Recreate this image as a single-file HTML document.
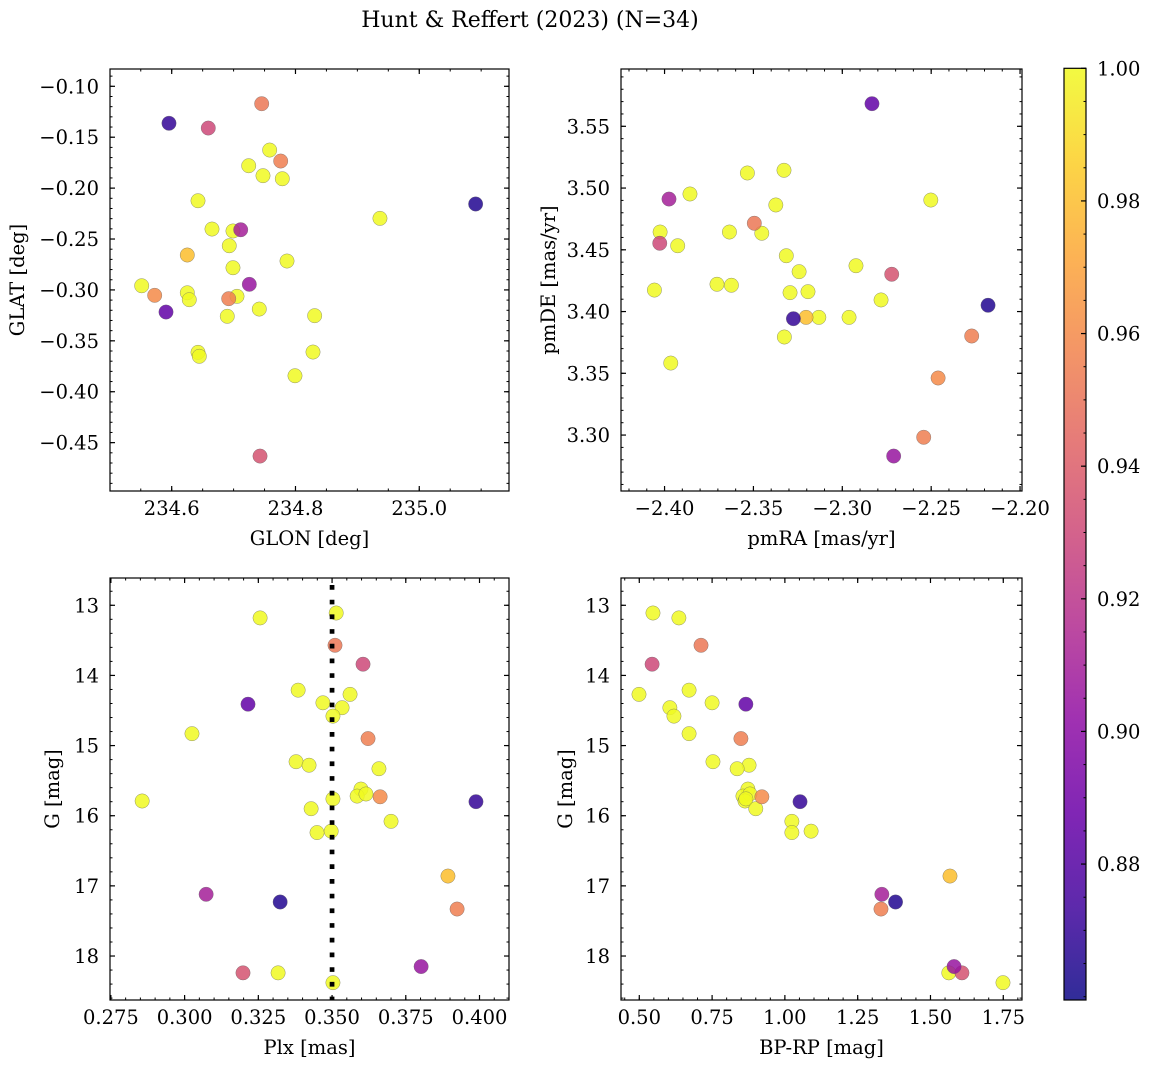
<!DOCTYPE html>
<html><head><meta charset="utf-8">
<style>
html,body{margin:0;padding:0;background:#fff;}
svg{display:block;font-family:"DejaVu Serif","Liberation Serif",serif;}
</style></head>
<body>
<svg id="fig" width="1149" height="1068" viewBox="0 0 1149 1068" xmlns="http://www.w3.org/2000/svg">
<defs>
<linearGradient id="plasma" x1="0" y1="1" x2="0" y2="0">
<stop offset="0" stop-color="#0d0887"/><stop offset="0.1" stop-color="#41049d"/><stop offset="0.2" stop-color="#6a00a8"/><stop offset="0.3" stop-color="#8f0da4"/><stop offset="0.4" stop-color="#b12a90"/><stop offset="0.5" stop-color="#cc4778"/><stop offset="0.6" stop-color="#e16462"/><stop offset="0.7" stop-color="#f2844b"/><stop offset="0.8" stop-color="#fca636"/><stop offset="0.9" stop-color="#fcce25"/><stop offset="1" stop-color="#f0f921"/>
</linearGradient>
</defs>
<text x="530" y="27" text-anchor="middle" font-size="22">Hunt &amp; Reffert (2023) (N=34)</text>
</svg>
<script>
// ---- data (one entry per star) ----
const glon = [234.7583,234.7244,234.7454,234.6591,234.7475,234.7787,234.5908,234.6425,234.9365,234.6651,234.699,234.7761,234.693,234.7863,234.699,234.5515,234.6252,234.6284,234.5725,234.7055,234.7415,234.5956,234.6898,234.831,234.6425,234.6446,234.6252,234.7115,235.0911,234.6921,234.7254,234.7427,234.8283,234.7992];
const glat = [-0.1626,-0.178,-0.1171,-0.141,-0.1878,-0.1908,-0.3217,-0.2124,-0.2297,-0.2402,-0.2421,-0.1734,-0.2566,-0.2716,-0.2782,-0.2959,-0.3028,-0.3096,-0.3053,-0.3063,-0.3188,-0.1363,-0.3259,-0.3253,-0.3613,-0.3652,-0.2657,-0.2409,-0.2156,-0.3086,-0.2945,-0.4632,-0.361,-0.3843];
const pmra = [-2.3328,-2.3534,-2.3495,-2.4027,-2.3857,-2.2502,-2.2833,-2.3374,-2.4025,-2.3635,-2.3453,-2.2272,-2.3926,-2.3315,-2.2923,-2.3243,-2.3705,-2.3624,-2.2461,-2.4057,-2.3294,-2.3275,-2.3193,-2.2782,-2.3132,-2.2962,-2.3204,-2.3975,-2.2180,-2.2542,-2.2711,-2.2722,-2.3326,-2.3965];
const pmde = [3.5144,3.5122,3.4715,3.4553,3.4952,3.4903,3.5683,3.4863,3.4644,3.4644,3.4634,3.3802,3.4533,3.4452,3.4371,3.4323,3.4221,3.4213,3.3462,3.4174,3.4153,3.3942,3.4161,3.4094,3.3953,3.3953,3.3953,3.4911,3.4051,3.2982,3.2830,3.4302,3.3794,3.3583];
const plx = [0.3514,0.3256,0.351,0.3605,0.3385,0.3561,0.3215,0.3469,0.3534,0.3503,0.3025,0.3622,0.3378,0.3422,0.3659,0.3598,0.3585,0.3615,0.3663,0.2856,0.3503,0.3988,0.3429,0.370,0.3449,0.3497,0.3893,0.3073,0.3324,0.3924,0.3802,0.3198,0.3317,0.3503];
const gmag = [13.11,13.18,13.57,13.84,14.21,14.27,14.41,14.39,14.46,14.58,14.83,14.90,15.23,15.28,15.33,15.62,15.72,15.69,15.73,15.79,15.76,15.80,15.90,16.08,16.24,16.22,16.86,17.12,17.23,17.33,18.15,18.24,18.24,18.38];
const bprp = [0.547,0.636,0.712,0.544,0.671,0.499,0.866,0.750,0.605,0.619,0.671,0.849,0.753,0.877,0.836,0.873,0.856,0.880,0.921,0.863,0.866,1.052,0.900,1.024,1.024,1.090,1.567,1.333,1.380,1.330,1.581,1.608,1.563,1.749];
const prob = [1,1,0.952,0.93,1,1,0.885,1,1,1,1,0.955,1,1,1,1,1,1,0.96,1,1,0.87,1,1,1,1,0.98,0.91,0.865,0.955,0.905,0.935,1,1];
const plxRef = 0.35;
const cbTicks = [0.88,0.90,0.92,0.94,0.96,0.98,1.00];
const xTicks1 = [234.6,234.8,235.0], yTicks1 = [-0.10,-0.15,-0.20,-0.25,-0.30,-0.35,-0.40,-0.45];
const xTicks2 = [-2.40,-2.35,-2.30,-2.25,-2.20], yTicks2 = [3.30,3.35,3.40,3.45,3.50,3.55];
const xTicks3 = [0.275,0.300,0.325,0.350,0.375,0.400], yTicks3 = [13,14,15,16,17,18];
const xTicks4 = [0.50,0.75,1.00,1.25,1.50,1.75], yTicks4 = [13,14,15,16,17,18];
const vmin = 0.8595, vmax = 1.0;

const FS = 19.5;
const NS = "http://www.w3.org/2000/svg";
const svg = document.getElementById('fig');
function mk(tag, attrs, parent){ const e=document.createElementNS(NS,tag); for(const k in attrs) e.setAttribute(k,attrs[k]); (parent||svg).appendChild(e); return e; }
const stops=[[0,13,8,135],[0.1,65,4,157],[0.2,106,0,168],[0.3,143,13,164],[0.4,177,42,144],[0.5,204,71,120],[0.6,225,100,98],[0.7,242,132,75],[0.8,252,166,54],[0.9,252,206,37],[1,240,249,33]];
function plasma(v){ let t=(v-vmin)/(vmax-vmin); t=Math.max(0,Math.min(1,t));
  for(let i=0;i<stops.length-1;i++){ const a=stops[i],b=stops[i+1]; if(t<=b[0]){ const f=(t-a[0])/(b[0]-a[0]); return `rgb(${Math.round(a[1]+f*(b[1]-a[1]))},${Math.round(a[2]+f*(b[2]-a[2]))},${Math.round(a[3]+f*(b[3]-a[3]))})`; } }
  return 'rgb(240,249,33)'; }
function fmt(v,d){ const s=Math.abs(v).toFixed(d); return (v<0?'\u2212':'')+s; }

function panel(o){
  const g=mk('g',{});
  
  
  const L=o.box[0],T=o.box[1],R=o.box[2],B=o.box[3];
  const sx=v=>L+(v-o.xr[0])/(o.xr[1]-o.xr[0])*(R-L);
  const sy=v=>o.yinv? T+(v-o.yr[0])/(o.yr[1]-o.yr[0])*(B-T) : B-(v-o.yr[0])/(o.yr[1]-o.yr[0])*(B-T);
  const idx=[...Array(o.x.length).keys()].sort((a,b)=>prob[b]-prob[a]);
  idx.forEach(i=>{
    const c=mk('circle',{cx:sx(o.x[i]),cy:sy(o.y[i]),r:7.2,fill:plasma(prob[i]),'fill-opacity':0.85,stroke:'#666','stroke-width':0.5,'stroke-opacity':0.7},g);
    
    
  });
  if(o.vline!==undefined){
    const ln=mk('line',{x1:sx(o.vline),x2:sx(o.vline),y1:T+7,y2:B,stroke:'#000','stroke-width':4.7,'stroke-dasharray':'4.7 10'},g);
    
    
  }
  const fr=mk('rect',{x:L,y:T,width:R-L,height:B-T,fill:'none',stroke:'#000','stroke-width':1.2},g);
  
  
  const mx0=Math.ceil(o.xr[0]/o.xm-1e-6);
  for(let k=mx0;k*o.xm<=o.xr[1];k++){ const x=sx(k*o.xm); mk('line',{x1:x,x2:x,y1:B,y2:B-2.5,stroke:'#000','stroke-width':1},g); mk('line',{x1:x,x2:x,y1:T,y2:T+2.5,stroke:'#000','stroke-width':1},g); }
  const lo=Math.min(o.yr[0],o.yr[1]),hi=Math.max(o.yr[0],o.yr[1]);
  for(let k=Math.ceil(lo/o.ym-1e-6);k*o.ym<=hi+1e-9;k++){ const y=sy(k*o.ym); mk('line',{x1:L,x2:L+2.5,y1:y,y2:y,stroke:'#000','stroke-width':1},g); mk('line',{x1:R,x2:R-2.5,y1:y,y2:y,stroke:'#000','stroke-width':1},g); }
  o.xt.forEach(v=>{ const x=sx(v); mk('line',{x1:x,x2:x,y1:B,y2:B-5,stroke:'#000','stroke-width':1.2},g); mk('line',{x1:x,x2:x,y1:T,y2:T+5,stroke:'#000','stroke-width':1.2},g);
    const t=mk('text',{x:x,y:B+24,'text-anchor':'middle','font-size':FS},g); t.textContent=fmt(v,o.xd);
    
     });
  o.yt.forEach(v=>{ const y=sy(v); mk('line',{x1:L,x2:L+5,y1:y,y2:y,stroke:'#000','stroke-width':1.2},g); mk('line',{x1:R,x2:R-5,y1:y,y2:y,stroke:'#000','stroke-width':1.2},g);
    const t=mk('text',{x:L-11,y:y+7,'text-anchor':'end','font-size':FS},g); t.textContent=fmt(v,o.yd);
    
     });
  const xl=mk('text',{x:(L+R)/2,y:B+54,'text-anchor':'middle','font-size':FS},g); xl.textContent=o.xlab;
  
  
  const yl=mk('text',{x:o.ylx,y:(T+B)/2,'text-anchor':'middle','font-size':FS,transform:`rotate(-90 ${o.ylx} ${(T+B)/2})`},g); yl.textContent=o.ylab;
  
  
}

panel({name:'glon-glat-panel',box:[110,69,509,491],x:glon,y:glat,xr:[234.5003,235.145],yr:[-0.4975,-0.083],xt:xTicks1,yt:yTicks1,xd:1,yd:2,xm:0.05,ym:0.01,xlab:'GLON [deg]',ylab:'GLAT [deg]',ylx:24});
panel({name:'proper-motion-panel',box:[621,69,1022,491],x:pmra,y:pmde,xr:[-2.4245,-2.1989],yr:[3.2547,3.5964],xt:xTicks2,yt:yTicks2,xd:2,yd:2,xm:0.01,ym:0.01,xlab:'pmRA [mas/yr]',ylab:'pmDE [mas/yr]',ylx:555});
panel({name:'plx-g-panel',box:[110,578,509,1000],x:plx,y:gmag,xr:[0.2747,0.41],yr:[12.611,18.627],yinv:true,xt:xTicks3,yt:yTicks3,xd:3,yd:0,xm:0.005,ym:0.2,xlab:'Plx [mas]',ylab:'G [mag]',ylx:59,vline:plxRef});
panel({name:'cmd-panel',box:[621,578,1022,1000],x:bprp,y:gmag,xr:[0.4372,1.8143],yr:[12.611,18.627],yinv:true,xt:xTicks4,yt:yTicks4,xd:2,yd:0,xm:0.05,ym:0.2,xlab:'BP-RP [mag]',ylab:'G [mag]',ylx:572});

const cb=mk('g',{});


const cT=68.3,cB=1000,cL=1064,cR=1086;
const cy=v=>cB-(v-vmin)/(vmax-vmin)*(cB-cT);
mk('rect',{x:cL,y:cT,width:cR-cL,height:cB-cT,fill:'url(#plasma)','fill-opacity':0.85,stroke:'#000','stroke-width':1.2},cb);
for(let k=Math.ceil(vmin/0.005);k*0.005<=vmax+1e-9;k++){ const y=cy(k*0.005); mk('line',{x1:cR,x2:cR-2.5,y1:y,y2:y,stroke:'#000','stroke-width':1},cb); }
cbTicks.forEach(v=>{ const y=cy(v); mk('line',{x1:cR,x2:cR-5,y1:y,y2:y,stroke:'#000','stroke-width':1.2},cb);
  const t=mk('text',{x:cR+11,y:y+7,'font-size':FS},cb); t.textContent=v.toFixed(2);
  
   });
</script>
</body></html>
